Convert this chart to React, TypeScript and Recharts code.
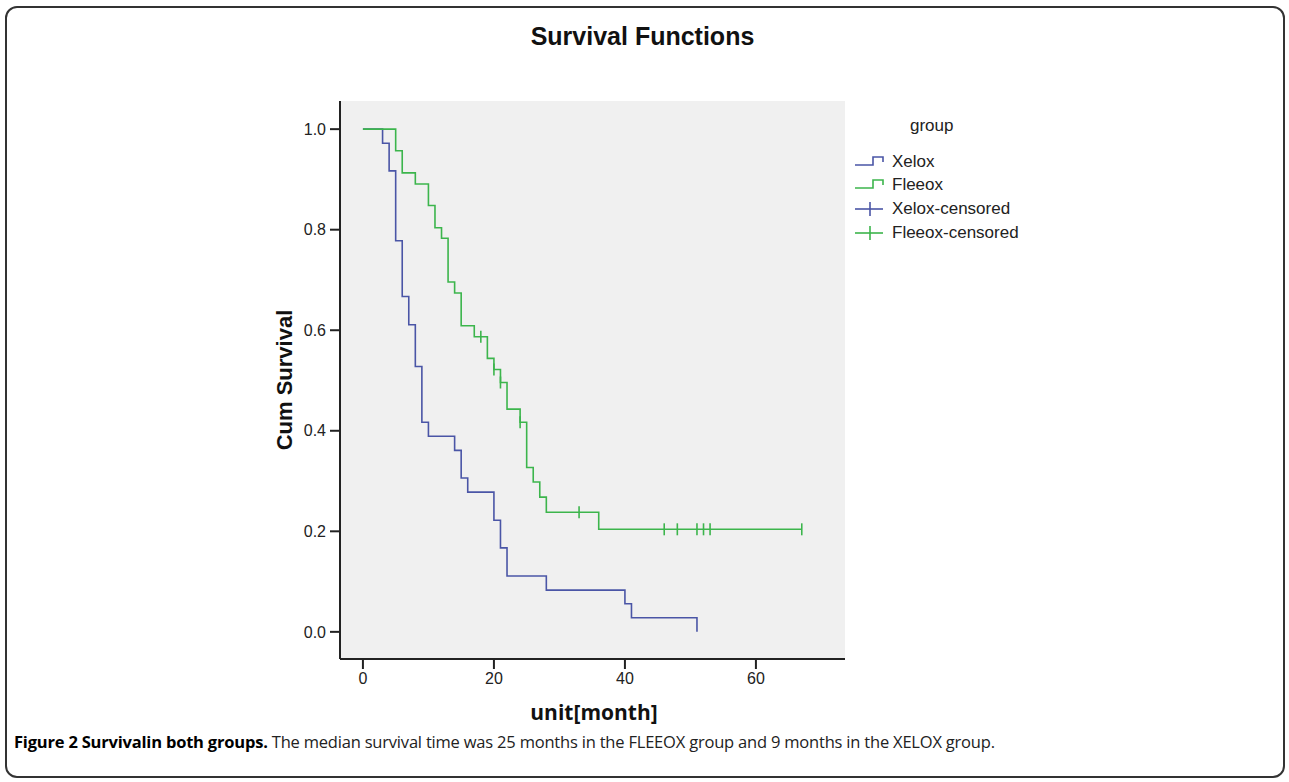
import { ComposedChart, Line, Scatter, XAxis, YAxis, CartesianGrid } from "recharts";

// Kaplan-Meier steps (months, cumulative survival)
const xeloxTime = [0, 3, 4, 5, 6, 7, 8, 9, 10, 14, 15, 16, 20, 21, 22, 28, 40, 41, 51];
const xeloxSurv = [1, 0.972, 0.917, 0.778, 0.667, 0.611, 0.528, 0.417, 0.389, 0.361, 0.306, 0.278, 0.222, 0.167, 0.111, 0.083, 0.056, 0.028, 0];

const fleeoxTime = [0, 5, 6, 8, 10, 11, 12, 13, 14, 15, 17, 19, 20, 21, 22, 24, 25, 26, 27, 28, 36, 67];
const fleeoxSurv = [1, 0.957, 0.913, 0.891, 0.848, 0.804, 0.783, 0.696, 0.674, 0.609, 0.587, 0.544, 0.522, 0.496, 0.443, 0.417, 0.327, 0.298, 0.268, 0.238, 0.204, 0.204];

const fleeoxCensTime = [18, 20, 21, 24, 33, 46, 48, 51, 52, 53, 67];
const fleeoxCensSurv = [0.587, 0.522, 0.496, 0.417, 0.238, 0.204, 0.204, 0.204, 0.204, 0.204, 0.204];

const xTicks = [0, 20, 40, 60];
const yTicks = [0, 0.2, 0.4, 0.6, 0.8, 1.0];

const BLUE = "#4a55a6";
const GREEN = "#3cb54c";
const FONT = "'Liberation Sans', Arial, sans-serif";

const xelox = xeloxTime.map((t, i) => ({ t, s: xeloxSurv[i] }));
const fleeox = fleeoxTime.map((t, i) => ({ t, s: fleeoxSurv[i] }));
const fleeoxCens = fleeoxCensTime.map((t, i) => ({ t, s: fleeoxCensSurv[i] }));

const CensorMark = (props: any) => {
  const { cx, cy } = props;
  if (cx == null || cy == null) return null;
  return <line x1={cx} x2={cx} y1={cy - 6} y2={cy + 6} stroke={GREEN} strokeWidth={1.6} />;
};

function LegendRow({ y, color, label, step }: { y: number; color: string; label: string; step: boolean }) {
  return (
    <div style={{ position: "absolute", left: 855, top: y - 12, height: 24, display: "flex", alignItems: "center" }}>
      <svg width={32} height={24} style={{ display: "block" }}>
        {step ? (
          <polyline points="0,15 18,15 18,7 28,7 28,12" fill="none" stroke={color} strokeWidth={1.6} />
        ) : (
          <>
            <line x1={0} x2={28} y1={12} y2={12} stroke={color} strokeWidth={1.6} />
            <line x1={15} x2={15} y1={5} y2={19} stroke={color} strokeWidth={1.6} />
          </>
        )}
      </svg>
      <span style={{ marginLeft: 5, fontFamily: FONT, fontSize: 17, color: "#222" }}>{label}</span>
    </div>
  );
}

export default function App() {
  return (
    <div style={{ position: "absolute", left: 0, top: 0, width: 1289, height: 782, background: "#fff", overflow: "hidden" }}>
      <div
        style={{
          position: "absolute",
          left: 5,
          top: 6,
          width: 1276,
          height: 768,
          border: "2px solid #333",
          borderRadius: 12,
        }}
      />
      <div style={{ position: "absolute", left: 0, width: 1289, top: 22, textAlign: "center", fontFamily: FONT, fontWeight: "bold", fontSize: 25, color: "#111" }}>
        <span style={{ position: "relative", left: -2 }}>Survival Functions</span>
      </div>

      <div style={{ position: "absolute", left: 0, top: 0 }}>
        <ComposedChart width={1289} height={782} margin={{ top: 101, right: 444, bottom: 93, left: 280 }}>
          <CartesianGrid fill="#f0f0f0" stroke="none" />
          <XAxis
            type="number"
            dataKey="t"
            domain={[-3.5, 73.6]}
            ticks={xTicks}
            allowDataOverflow
            height={30}
            tickSize={10}
            tickMargin={4}
            axisLine={{ stroke: "#222", strokeWidth: 2 }}
            tickLine={{ stroke: "#222", strokeWidth: 2 }}
            tick={{ fontSize: 16, fill: "#222", fontFamily: FONT }}
          />
          <YAxis
            type="number"
            domain={[-0.054, 1.056]}
            ticks={yTicks}
            allowDataOverflow
            width={60}
            tickSize={10}
            tickMargin={4}
            tickFormatter={(v: number) => v.toFixed(1)}
            axisLine={{ stroke: "#222", strokeWidth: 2 }}
            tickLine={{ stroke: "#222", strokeWidth: 2 }}
            tick={{ fontSize: 16, fill: "#222", fontFamily: FONT }}
          />
          <Line data={xelox} dataKey="s" type="stepAfter" stroke={BLUE} strokeWidth={1.6} dot={false} activeDot={false} isAnimationActive={false} />
          <Line data={fleeox} dataKey="s" type="stepAfter" stroke={GREEN} strokeWidth={1.6} dot={false} activeDot={false} isAnimationActive={false} />
          <Scatter data={fleeoxCens} dataKey="s" shape={CensorMark} isAnimationActive={false} />
        </ComposedChart>
      </div>

      <div
        style={{
          position: "absolute",
          left: 285,
          top: 380,
          transform: "translate(-50%, -50%) rotate(-90deg)",
          fontFamily: FONT,
          fontWeight: "bold",
          fontSize: 22,
          color: "#111",
          whiteSpace: "nowrap",
        }}
      >
        Cum Survival
      </div>

      <div
        style={{
          position: "absolute",
          left: 594,
          top: 712,
          transform: "translate(-50%, -50%)",
          fontFamily: "'Open Sans', sans-serif",
          fontWeight: 700,
          fontSize: 21,
          lineHeight: "24px",
          color: "#111",
          whiteSpace: "nowrap",
        }}
      >
        unit[month]
      </div>

      <div style={{ position: "absolute", left: 910, top: 116, fontFamily: FONT, fontSize: 17, color: "#222" }}>group</div>
      <LegendRow y={162} color={BLUE} label="Xelox" step />
      <LegendRow y={185} color={GREEN} label="Fleeox" step />
      <LegendRow y={209} color={BLUE} label="Xelox-censored" step={false} />
      <LegendRow y={233} color={GREEN} label="Fleeox-censored" step={false} />

      <div
        style={{
          position: "absolute",
          left: 14,
          top: 731,
          fontFamily: "'Open Sans', sans-serif",
          fontSize: 16.5,
          lineHeight: "22px",
          color: "#222",
          whiteSpace: "nowrap",
          letterSpacing: -0.2,
        }}
      >
        <b style={{ color: "#000" }}>Figure 2 Survivalin both groups.</b> The median survival time was 25 months in the FLEEOX group and 9 months in the XELOX group.
      </div>
    </div>
  );
}
